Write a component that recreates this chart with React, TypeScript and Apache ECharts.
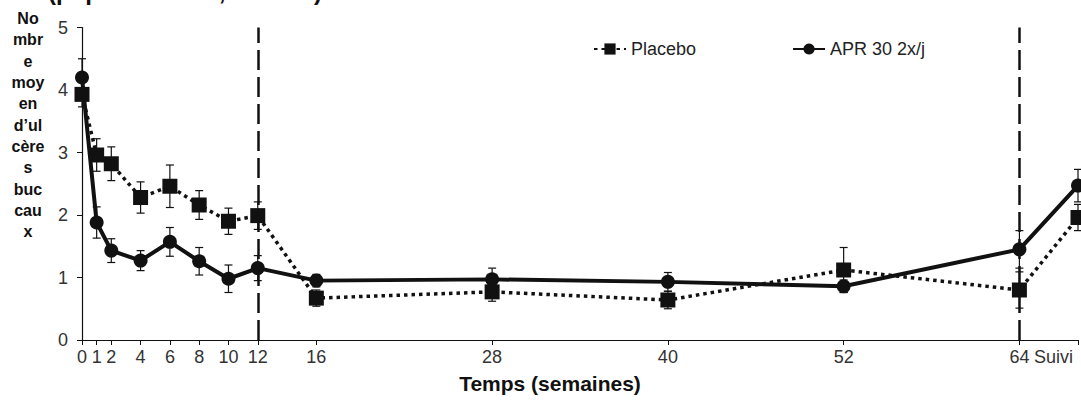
import React, { useEffect, useRef } from "react";
import * as echarts from "echarts";

// x positions (weeks); the last one is the follow-up visit ("Suivi")
const xPositions = [0, 1, 2, 4, 6, 8, 10, 12, 16, 28, 40, 52, 64, 68];
const xLabels = ["0", "1", "2", "4", "6", "8", "10", "12", "16", "28", "40", "52", "64", "Suivi"];
const phaseBoundaries = [12, 64];

const placeboMean = [3.93, 2.96, 2.82, 2.28, 2.46, 2.16, 1.9, 1.99, 0.67, 0.77, 0.64, 1.12, 0.8, 1.96];
const placeboSE = [0.2, 0.26, 0.27, 0.25, 0.34, 0.23, 0.21, 0.22, 0.13, 0.15, 0.14, 0.36, 0.29, 0.21];

const aprMean = [4.2, 1.88, 1.43, 1.27, 1.57, 1.26, 0.98, 1.15, 0.95, 0.97, 0.93, 0.86, 1.45, 2.47];
const aprSE = [0.3, 0.25, 0.19, 0.16, 0.23, 0.22, 0.22, 0.2, 0.1, 0.18, 0.15, 0.1, 0.3, 0.26];

const yTicks = [0, 1, 2, 3, 4, 5];

const seriesNames = ["Placebo", "APR 30 2x/j"];
const yAxisTitle = "No\nmbr\ne\nmoy\nen\nd\u2019ul\ncère\ns\nbuc\ncau\nx";
const xAxisTitle = "Temps (semaines)";
const topTitle = "(population ITT, n = 207)";

const FONT = "'Liberation Sans', Arial, sans-serif";

export default function App() {
  const ref = useRef<HTMLDivElement>(null);

  useEffect(() => {
    if (!ref.current) return;
    const chart = echarts.init(ref.current, null, { renderer: "svg" });

    const errData = (mean: number[], se: number[]) =>
      xPositions.map((x, i) => [x, mean[i] - se[i], mean[i] + se[i]]);

    const renderErr = (params: any, api: any) => {
      const x = api.value(0);
      const lo = api.coord([x, api.value(1)]);
      const hi = api.coord([x, api.value(2)]);
      const w = 4;
      const style = { stroke: "#111", lineWidth: 1.2 };
      return {
        type: "group",
        children: [
          { type: "line", shape: { x1: lo[0], y1: lo[1], x2: hi[0], y2: hi[1] }, style },
          { type: "line", shape: { x1: lo[0] - w, y1: lo[1], x2: lo[0] + w, y2: lo[1] }, style },
          { type: "line", shape: { x1: hi[0] - w, y1: hi[1], x2: hi[0] + w, y2: hi[1] }, style },
        ],
      };
    };

    const lastX = xPositions[xPositions.length - 1];

    const option: any = {
      animation: false,
      textStyle: { fontFamily: FONT },
      grid: { left: 82, right: 3, top: 27.5, bottom: 61, containLabel: false },
      legend: {
        data: seriesNames,
        left: 588,
        top: 35,
        itemWidth: 32,
        itemHeight: 14,
        itemGap: 96,
        textStyle: { fontSize: 18, color: "#222", fontFamily: FONT },
      },
      xAxis: {
        type: "value",
        min: 0,
        max: 68,
        splitLine: { show: false },
        axisLine: { show: true, lineStyle: { color: "#111", width: 1.2 } },
        axisTick: { show: true, length: 5, customValues: xPositions, lineStyle: { color: "#111" } },
        axisLabel: {
          customValues: xPositions,
          formatter: (v: number) => {
            const i = xPositions.indexOf(v);
            if (i < 0) return "";
            return v === lastX ? `{s|${xLabels[i]}}` : xLabels[i];
          },
          rich: {
            s: { fontSize: 18, color: "#333", fontFamily: FONT, padding: [0, 5, 0, 0] },
          },
          fontSize: 18,
          color: "#333",
          margin: 8,
          fontFamily: FONT,
          alignMaxLabel: "right",
        },
      },
      yAxis: {
        type: "value",
        min: 0,
        max: 5,
        interval: 1,
        splitLine: { show: false },
        axisLine: { show: true, lineStyle: { color: "#111", width: 1.2 } },
        axisTick: { show: true, length: 5, lineStyle: { color: "#111" } },
        axisLabel: {
          fontSize: 18,
          color: "#333",
          margin: 14,
          fontFamily: FONT,
          formatter: (v: number) => (yTicks.includes(v) ? String(v) : ""),
        },
      },
      graphic: [
        {
          type: "text",
          left: 48,
          top: -21,
          style: { text: topTitle, font: `bold 24px ${FONT}`, fill: "#111" },
        },
        {
          type: "text",
          x: 28,
          y: 8,
          style: {
            text: yAxisTitle,
            font: `bold 16px ${FONT}`,
            fill: "#111",
            align: "center",
            verticalAlign: "top",
            lineHeight: 21.3,
          },
        },
        {
          type: "text",
          x: 550,
          y: 383,
          style: {
            text: xAxisTitle,
            font: `bold 21px ${FONT}`,
            fill: "#111",
            align: "center",
            verticalAlign: "middle",
          },
        },
      ],
      series: [
        {
          type: "custom",
          name: "errPlacebo",
          renderItem: renderErr,
          data: errData(placeboMean, placeboSE),
          encode: { x: 0, y: [1, 2] },
          z: 1,
          silent: true,
        },
        {
          type: "custom",
          name: "errApr",
          renderItem: renderErr,
          data: errData(aprMean, aprSE),
          encode: { x: 0, y: [1, 2] },
          z: 1,
          silent: true,
        },
        {
          name: seriesNames[0],
          type: "line",
          data: xPositions.map((x, i) => [x, placeboMean[i]]),
          symbol: "rect",
          symbolSize: 15,
          itemStyle: { color: "#111" },
          lineStyle: { color: "#111", width: 3.5, type: [3.5, 4] },
          z: 3,
          markLine: {
            silent: true,
            symbol: "none",
            label: { show: false },
            lineStyle: { color: "#111", width: 2.5, type: [20, 7] },
            data: phaseBoundaries.map((x) => ({ xAxis: x })),
          },
        },
        {
          name: seriesNames[1],
          type: "line",
          data: xPositions.map((x, i) => [x, aprMean[i]]),
          symbol: "circle",
          symbolSize: 14,
          itemStyle: { color: "#111" },
          lineStyle: { color: "#111", width: 4 },
          z: 4,
        },
      ],
    };

    chart.setOption(option);
    return () => chart.dispose();
  }, []);

  return (
    <div
      ref={ref}
      style={{ position: "absolute", left: 0, top: 0, width: 1081, height: 401, background: "#fff" }}
    />
  );
}
